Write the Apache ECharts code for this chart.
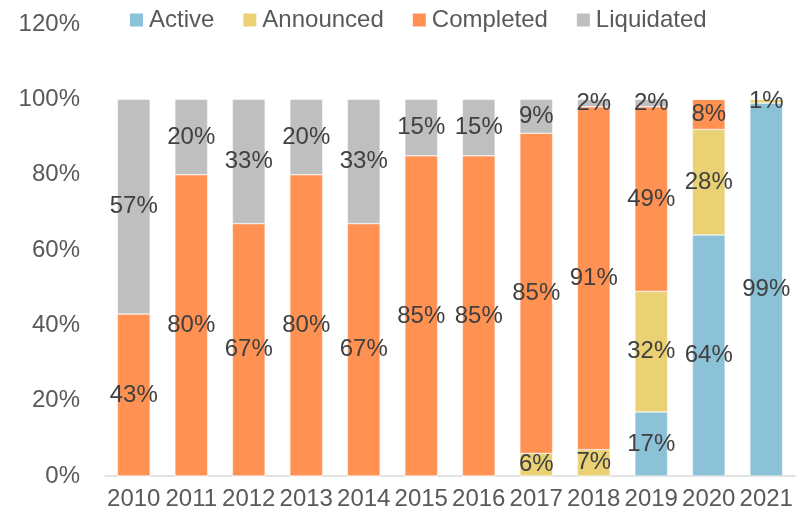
<!DOCTYPE html>
<html>
<head>
<meta charset="utf-8">
<script src="https://cdn.jsdelivr.net/npm/echarts@6/dist/echarts.min.js"></script>
<style>
  html, body { margin: 0; padding: 0; background: #fff; }
  #chart { width: 808px; height: 519px; }
</style>
</head>
<body>
<div id="chart"></div>
<script>
// 연도별 상태 비율 (%)
const years = ['2010', '2011', '2012', '2013', '2014', '2015', '2016', '2017', '2018', '2019', '2020', '2021'];
const active     = [0, 0, 0, 0, 0, 0, 0, 0, 0, 17, 64, 99];
const announced  = [0, 0, 0, 0, 0, 0, 0, 6, 7, 32, 28, 1];
const completed  = [43, 80, 67, 80, 67, 85, 85, 85, 91, 49, 8, 0];
const liquidated = [57, 20, 33, 20, 33, 15, 15, 9, 2, 2, 0, 0];

const fontFamily = 'Liberation Sans, Arial, sans-serif';
const labelColor = '#404040';

const makeSeries = (name, data, color) => ({
  name,
  type: 'bar',
  stack: 'total',
  barWidth: '57%',
  data,
  itemStyle: { color, borderColor: '#fff', borderWidth: 0.5 },
  label: {
    show: true,
    position: 'inside',
    color: labelColor,
    fontSize: 24,
    fontFamily,
    formatter: (p) => (p.value > 0 ? p.value + '%' : ''),
  },
});

const chart = echarts.init(document.getElementById('chart'));

chart.setOption({
  animation: false,
  legend: {
    data: ['Active', 'Announced', 'Completed', 'Liquidated'],
    top: 3,
    left: 123,
    icon: 'rect',
    itemWidth: 15,
    itemHeight: 15,
    itemGap: 27,
    textStyle: { color: '#595959', fontSize: 24, fontFamily },
  },
  grid: { left: 105, right: 13, top: 24, bottom: 43 },
  xAxis: {
    type: 'category',
    data: years,
    axisLine: { lineStyle: { color: '#d9d9d9', width: 1.5 } },
    axisTick: { show: false },
    axisLabel: { color: '#595959', fontSize: 24, fontFamily, margin: 11, interval: 0 },
  },
  yAxis: {
    type: 'value',
    min: 0,
    max: 120,
    interval: 20,
    axisLine: { show: false },
    axisTick: { show: false },
    splitLine: { show: false },
    axisLabel: { color: '#595959', fontSize: 24, fontFamily, margin: 25, formatter: '{value}%' },
  },
  series: [
    makeSeries('Active', active, '#8bc2d7'),
    makeSeries('Announced', announced, '#e9d174'),
    makeSeries('Completed', completed, '#ff9152'),
    makeSeries('Liquidated', liquidated, '#bfbfbf'),
  ],
});
</script>
</body>
</html>
